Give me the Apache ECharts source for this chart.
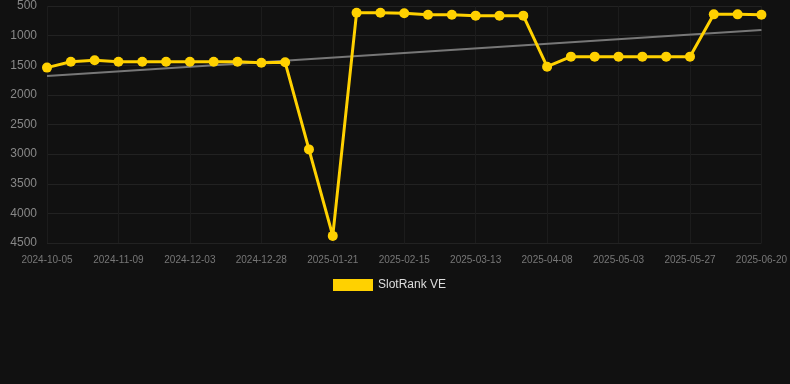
<!DOCTYPE html>
<html>
<head>
<meta charset="utf-8">
<script src="https://cdn.jsdelivr.net/npm/echarts@6/dist/echarts.min.js"></script>
<style>
    html, body { margin: 0; padding: 0; background: #111111; }
    #chart { width: 790px; height: 384px; }
</style>
</head>
<body>
<div id="chart"></div>
<script>
// 日期（类目轴）
const dates = [
    '2024-10-05', '2024-10-17', '2024-10-29', '2024-11-09', '2024-11-17', '2024-11-25',
    '2024-12-03', '2024-12-11', '2024-12-19', '2024-12-28', '2025-01-05', '2025-01-13',
    '2025-01-21', '2025-01-29', '2025-02-07', '2025-02-15', '2025-02-23', '2025-03-05',
    '2025-03-13', '2025-03-21', '2025-03-30', '2025-04-08', '2025-04-16', '2025-04-24',
    '2025-05-03', '2025-05-11', '2025-05-19', '2025-05-27', '2025-06-04', '2025-06-12',
    '2025-06-20'
];

// 排名数据
const ranks = [
    1540, 1440, 1417, 1440, 1440, 1440,
    1440, 1440, 1440, 1457, 1450, 2920,
    4380, 613, 613, 623, 647, 647,
    663, 663, 663, 1524, 1355, 1355,
    1355, 1355, 1355, 1355, 641, 641,
    647
];

// 趋势线两端
const trendStart = 1680;
const trendEnd = 905;

const yTicks = { min: 500, max: 4500, step: 500 };

const trend = dates.map((d, i) => {
    if (i === 0) return trendStart;
    if (i === dates.length - 1) return trendEnd;
    return null;
});

const chart = echarts.init(document.getElementById('chart'));
const option = {
    backgroundColor: '#111111',
    animation: false,
    grid: {
        left: 47,
        right: 28,
        top: 6,
        bottom: 141
    },
    legend: {
        top: 274,
        left: 328,
        itemWidth: 40,
        itemHeight: 12,
        itemGap: 10,
        data: [{ name: 'SlotRank VE', icon: 'rect' }],
        textStyle: { color: '#dddddd', fontSize: 12, fontFamily: 'Liberation Sans, Arial, sans-serif' }
    },
    xAxis: {
        type: 'category',
        data: dates,
        boundaryGap: false,
        axisLine: { show: false },
        axisTick: { show: false },
        axisLabel: {
            interval: 2,
            color: '#777777',
            fontSize: 10,
            fontFamily: 'Liberation Sans, Arial, sans-serif',
            margin: 12
        },
        splitLine: {
            show: true,
            interval: 2,
            lineStyle: { color: '#1c1c1c', width: 1 }
        }
    },
    yAxis: {
        type: 'value',
        inverse: true,
        min: yTicks.min,
        max: yTicks.max,
        interval: yTicks.step,
        axisLine: { show: false },
        axisTick: { show: false },
        axisLabel: {
            color: '#888888',
            fontSize: 12,
            fontFamily: 'Liberation Sans, Arial, sans-serif',
            margin: 10,
            formatter: v => String(v)
        },
        splitLine: {
            lineStyle: { color: '#222222', width: 1 }
        }
    },
    series: [
        {
            name: 'trend',
            type: 'line',
            data: trend,
            connectNulls: true,
            showSymbol: false,
            symbol: 'none',
            lineStyle: { color: '#777777', width: 2 },
            z: 1
        },
        {
            name: 'SlotRank VE',
            type: 'line',
            data: ranks,
            symbol: 'circle',
            symbolSize: 10,
            itemStyle: { color: '#FFD100' },
            lineStyle: { color: '#FFD100', width: 3 },
            z: 2
        }
    ]
};
chart.setOption(option);
</script>
</body>
</html>
